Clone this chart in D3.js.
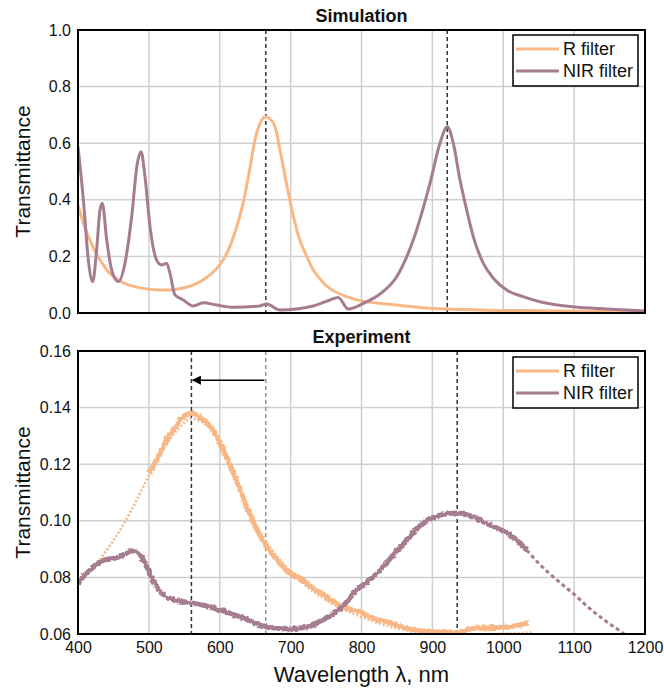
<!DOCTYPE html>
<html>
<head>
<meta charset="utf-8">
<script src="https://cdn.jsdelivr.net/npm/d3@7"></script>
<style>
  body { margin: 0; background: #fff; }
  text { font-family: "Liberation Sans", Arial, sans-serif; fill: #111; }
</style>
</head>
<body>
<svg id="chart" width="664" height="691"></svg>
<script>
// ---- simulation (top panel) ----
var simRWave = [400, 410, 421, 433, 445, 457, 469, 492, 516, 539, 563, 586, 600, 612, 624, 633, 643, 652, 661, 666, 676, 685, 694, 704, 713, 723, 732, 755, 779, 802, 850, 897, 967, 1050, 1200];
var simRVal = [0.382, 0.30, 0.234, 0.18, 0.140, 0.117, 0.101, 0.087, 0.081, 0.084, 0.099, 0.134, 0.170, 0.222, 0.305, 0.388, 0.517, 0.635, 0.688, 0.693, 0.670, 0.576, 0.459, 0.340, 0.258, 0.199, 0.152, 0.087, 0.058, 0.042, 0.028, 0.017, 0.011, 0.008, 0.005];

var simNirWave = [400, 407.6, 414.6, 420.7, 426.3, 431, 434.3, 440.5, 447.5, 456.9, 466.3, 475.7, 483.7, 489, 494.5, 501.6, 511, 518, 525, 529.8, 536.8, 548.6, 562.7, 576.8, 595.7, 619, 656.8, 666, 685, 732, 755.5, 767, 781.4, 802.5, 826, 849.6, 873, 896.6, 910.7, 921, 929.5, 939, 948.4, 957.7, 971.8, 986, 1004.8, 1028, 1051.8, 1098.8, 1145.8, 1200];
var simNirVal = [0.588, 0.40, 0.187, 0.111, 0.223, 0.364, 0.388, 0.258, 0.152, 0.111, 0.176, 0.340, 0.529, 0.570, 0.482, 0.305, 0.187, 0.170, 0.176, 0.140, 0.064, 0.046, 0.025, 0.036, 0.028, 0.020, 0.025, 0.032, 0.011, 0.025, 0.046, 0.055, 0.014, 0.034, 0.067, 0.128, 0.258, 0.458, 0.600, 0.658, 0.600, 0.470, 0.364, 0.270, 0.176, 0.123, 0.081, 0.058, 0.040, 0.022, 0.014, 0.007];

// ---- experiment (bottom panel) ----
var expRWave = [500, 512, 525, 537, 548, 560, 575, 591, 603, 614, 627, 638, 652, 666, 685, 699, 709, 730, 751, 774, 798, 816, 840, 864, 890, 911, 935, 958, 980, 1005, 1020, 1035];
var expRVal = [0.117, 0.122, 0.1286, 0.133, 0.1367, 0.138, 0.136, 0.1321, 0.126, 0.120, 0.112, 0.105, 0.097, 0.0909, 0.085, 0.0815, 0.0803, 0.0765, 0.073, 0.0695, 0.0678, 0.0656, 0.064, 0.062, 0.061, 0.0607, 0.0605, 0.062, 0.0622, 0.0625, 0.063, 0.0639];
var fitRWave = [400, 420, 440, 460, 480, 500, 520, 540, 560, 580, 600, 650, 700, 750, 800, 850, 900, 950, 1000, 1040];
var fitRVal = [0.078, 0.083, 0.0895, 0.097, 0.106, 0.116, 0.125, 0.132, 0.136, 0.134, 0.128, 0.099, 0.082, 0.072, 0.066, 0.062, 0.0600, 0.0598, 0.0601, 0.0605];

var expNirWave = [400, 410, 417, 436, 455, 468, 476, 484, 492, 500, 511, 525, 540, 560, 580, 600, 633, 666, 695, 723, 751, 774, 793, 816, 840, 864, 887, 911, 935, 958, 981, 1005, 1020, 1033];
var expNirVal = [0.078, 0.081, 0.0826, 0.086, 0.087, 0.0885, 0.0893, 0.0888, 0.0862, 0.082, 0.0767, 0.073, 0.0718, 0.071, 0.070, 0.0685, 0.0657, 0.0625, 0.0618, 0.0625, 0.0657, 0.070, 0.0755, 0.080, 0.0865, 0.0932, 0.0992, 0.102, 0.1028, 0.1014, 0.0985, 0.0957, 0.093, 0.0897];
var fitNirWave = [1033, 1050, 1076, 1100, 1122, 1145, 1169, 1185];
var fitNirVal = [0.0897, 0.085, 0.079, 0.074, 0.069, 0.0645, 0.0603, 0.057];

var xTicks = [400, 500, 600, 700, 800, 900, 1000, 1100, 1200];
var simYTicks = [0, 0.2, 0.4, 0.6, 0.8, 1.0];
var expYTicks = [0.06, 0.08, 0.10, 0.12, 0.14, 0.16];
var simMarkers = [665, 921];
var expMarkers = [560, 665, 935];
var legendNames = ["R filter", "NIR filter"];

var colR = "#f8b784", colNir = "#a67c90";

var svg = d3.select("#chart");
var left = 78, right = 645;

var x = d3.scaleLinear().domain([400, 1200]).range([left, right]);
var ySim = d3.scaleLinear().domain([0, 1]).range([313, 30]);
var yExp = d3.scaleLinear().domain([0.06, 0.16]).range([634, 351]);

function zip(a, b) { return a.map((w, i) => [w, b[i]]); }

// rough texture for the measured curves
var defs = svg.append("defs");
var filt = defs.append("filter").attr("id", "rough")
    .attr("x", "-5%").attr("y", "-20%").attr("width", "110%").attr("height", "140%");
filt.append("feTurbulence").attr("type", "fractalNoise")
    .attr("baseFrequency", "0.3 0.3").attr("numOctaves", 2).attr("seed", 3).attr("result", "noise");
filt.append("feDisplacementMap").attr("in", "SourceGraphic").attr("in2", "noise")
    .attr("scale", 4).attr("xChannelSelector", "R").attr("yChannelSelector", "G");

function panel(y, yTicks, fmt, id) {
    var g = svg.append("g");
    defs.append("clipPath").attr("id", id)
        .append("rect").attr("x", left).attr("y", y.range()[1])
        .attr("width", right - left).attr("height", y.range()[0] - y.range()[1]);

    // grid
    g.selectAll(".vg").data(xTicks.slice(1, -1)).enter().append("line")
        .attr("x1", d => x(d)).attr("x2", d => x(d))
        .attr("y1", y.range()[1]).attr("y2", y.range()[0])
        .attr("stroke", "#cfcfcf").attr("stroke-width", 1.5);
    g.selectAll(".hg").data(yTicks.slice(1, -1)).enter().append("line")
        .attr("x1", left).attr("x2", right)
        .attr("y1", d => y(d)).attr("y2", d => y(d))
        .attr("stroke", "#cfcfcf").attr("stroke-width", 1.5);

    var ax = g.append("g").attr("transform", "translate(" + left + ",0)")
        .call(d3.axisLeft(y).tickValues(yTicks).tickFormat(d3.format(fmt)).tickSize(0).tickPadding(7));
    ax.select(".domain").remove();
    ax.selectAll("text").style("font-size", "16px").attr("fill", "#111")
        .style("font-family", '"Liberation Sans", Arial, sans-serif');

    g.append("text").attr("transform", "translate(30," + ((y.range()[0] + y.range()[1]) / 2) + ") rotate(-90)")
        .attr("text-anchor", "middle").style("font-size", "21px").text("Transmittance");
    return g;
}

function frame(y) {
    svg.append("rect").attr("x", left).attr("y", y.range()[1])
        .attr("width", right - left).attr("height", y.range()[0] - y.range()[1])
        .attr("fill", "none").attr("stroke", "#000").attr("stroke-width", 2);
}

function legend(top) {
    var lg = svg.append("g").attr("transform", "translate(513," + top + ")");
    lg.append("rect").attr("width", 125).attr("height", 51)
        .attr("fill", "#fff").attr("stroke", "#000").attr("stroke-width", 1.5);
    [colR, colNir].forEach(function (c, i) {
        lg.append("line").attr("x1", 3).attr("x2", 46).attr("y1", 14 + i * 22).attr("y2", 14 + i * 22)
            .attr("stroke", c).attr("stroke-width", 3);
        lg.append("text").attr("x", 50).attr("y", 20 + i * 22).style("font-size", "18px").text(legendNames[i]);
    });
}

var line = function (y, curve) {
    return d3.line().x(d => x(d[0])).y(d => y(d[1])).curve(curve || d3.curveMonotoneX);
};

// ---------- top panel ----------
panel(ySim, simYTicks, ".1f", "clipSim");
var topLines = svg.append("g").attr("clip-path", "url(#clipSim)");
topLines.selectAll(".mk").data(simMarkers).enter().append("line")
    .attr("x1", d => x(d)).attr("x2", d => x(d)).attr("y1", ySim(1)).attr("y2", ySim(0))
    .attr("stroke", "#333").attr("stroke-width", 1.5).attr("stroke-dasharray", "4,3");
topLines.append("path").datum(zip(simRWave, simRVal)).attr("d", line(ySim, d3.curveCatmullRom.alpha(0.5)))
    .attr("fill", "none").attr("stroke", colR).attr("stroke-width", 3);
topLines.append("path").datum(zip(simNirWave, simNirVal)).attr("d", line(ySim))
    .attr("fill", "none").attr("stroke", colNir).attr("stroke-width", 3);
frame(ySim);
legend(35);
svg.append("text").attr("x", (left + right) / 2).attr("y", 22).attr("text-anchor", "middle")
    .style("font-size", "18px").style("font-weight", "bold").text("Simulation");

// ---------- bottom panel ----------
panel(yExp, expYTicks, ".2f", "clipExp");
var botLines = svg.append("g").attr("clip-path", "url(#clipExp)");
botLines.selectAll(".mk").data(expMarkers).enter().append("line")
    .attr("x1", d => x(d)).attr("x2", d => x(d)).attr("y1", yExp(0.16)).attr("y2", yExp(0.06))
    .attr("stroke", d => d === 665 ? "#777" : "#333")
    .attr("stroke-width", d => d === 665 ? 1.2 : 1.5).attr("stroke-dasharray", "4,3");

botLines.append("path").datum(zip(fitRWave, fitRVal)).attr("d", line(yExp))
    .attr("fill", "none").attr("stroke", colR).attr("stroke-width", 2.5).attr("stroke-dasharray", "2,2");
botLines.append("path").datum(zip(fitNirWave, fitNirVal)).attr("d", line(yExp))
    .attr("fill", "none").attr("stroke", colNir).attr("stroke-width", 3).attr("stroke-dasharray", "4,3");
botLines.append("path").datum(zip(expRWave, expRVal)).attr("d", line(yExp))
    .attr("fill", "none").attr("stroke", colR).attr("stroke-width", 5).attr("filter", "url(#rough)");
botLines.append("path").datum(zip(expNirWave, expNirVal)).attr("d", line(yExp))
    .attr("fill", "none").attr("stroke", colNir).attr("stroke-width", 5).attr("filter", "url(#rough)");

// arrow showing the shift of the R peak
defs.append("marker").attr("id", "head").attr("viewBox", "0 0 10 10")
    .attr("refX", 9).attr("refY", 5).attr("markerWidth", 6).attr("markerHeight", 6)
    .attr("orient", "auto-start-reverse")
    .append("path").attr("d", "M0,0 L10,5 L0,10 z").attr("fill", "#000");
svg.append("line").attr("x1", x(663)).attr("x2", x(562)).attr("y1", yExp(0.1497)).attr("y2", yExp(0.1497))
    .attr("stroke", "#000").attr("stroke-width", 1.5).attr("marker-end", "url(#head)");

frame(yExp);
legend(357);
svg.append("text").attr("x", (left + right) / 2).attr("y", 343).attr("text-anchor", "middle")
    .style("font-size", "18px").style("font-weight", "bold").text("Experiment");

var xa = svg.append("g").attr("transform", "translate(0,634)")
    .call(d3.axisBottom(x).tickValues(xTicks).tickFormat(d3.format("d")).tickSize(0).tickPadding(8));
xa.select(".domain").remove();
xa.selectAll("text").style("font-size", "16px").attr("fill", "#111")
    .style("font-family", '"Liberation Sans", Arial, sans-serif');

svg.append("text").attr("x", (left + right) / 2).attr("y", 682).attr("text-anchor", "middle")
    .style("font-size", "22px").text("Wavelength λ, nm");
</script>
</body>
</html>
